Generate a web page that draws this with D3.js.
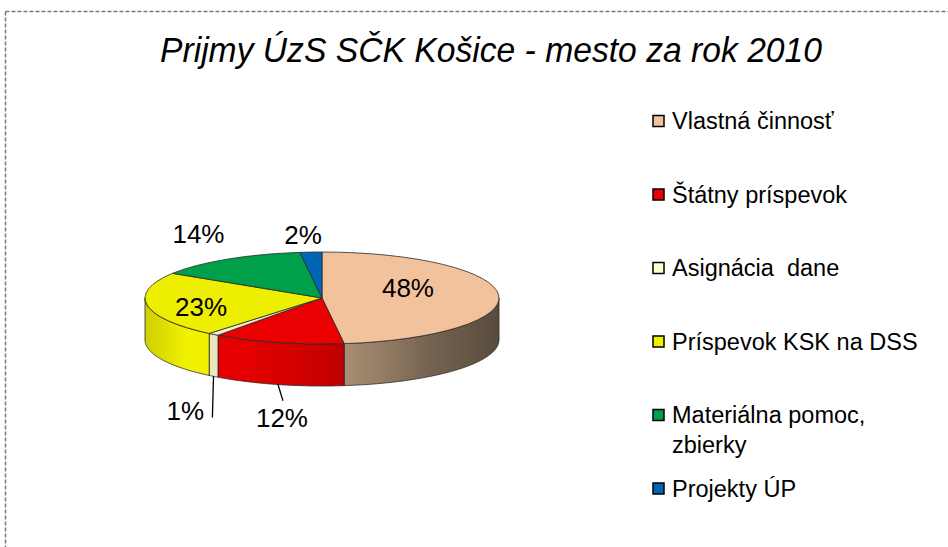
<!DOCTYPE html>
<html>
<head>
<meta charset="utf-8">
<script src="https://cdn.jsdelivr.net/npm/d3@7"></script>
<style>
  html, body { margin: 0; padding: 0; background: #fff; }
  svg { display: block; }
  text { font-family: "Liberation Sans", Arial, sans-serif; fill: #000; white-space: pre; }
</style>
</head>
<body>
<svg id="chart" width="948" height="547"></svg>
<script>
// ---- data ----
const title = "Prijmy ÚzS SČK Košice - mesto za rok 2010";
const categories = ["Vlastná činnosť", "Štátny príspevok", "Asignácia  dane",
                    "Príspevok KSK na DSS", "Materiálna pomoc, zbierky", "Projekty ÚP"];
const legendLines = [["Vlastná činnosť"], ["Štátny príspevok"], ["Asignácia  dane"],
                     ["Príspevok KSK na DSS"], ["Materiálna pomoc,", "zbierky"], ["Projekty ÚP"]];
const values = [48, 12, 1, 23, 14, 2];
const valueLabels = ["48%", "12%", "1%", "23%", "14%", "2%"];

// ---- style ----
const topColors  = ["#F2C29C", "#EA0000", "#F3EFC8", "#EEEE00", "#00A04A", "#0066B3"];
const sideColors = ["#D2B290", "#EA0000", "#EEEAC0", "#F2F200", "#00A04A", "#0066B3"];
const legendColors = ["#F2C29C", "#EA0000", "#FFFFD0", "#F2F200", "#00A04A", "#0066B3"];
// label placement: radial factor, pixel nudge, leader (null = none)
const labelRadial = [0.6, 1.25, 1.25, 0.6, 1.25, 1.25];
const labelNudge  = [[-20, -9], [15, 64], [-1, 67], [-16, 4], [-5, -16], [-5, -6]];
const leaderEnd   = [null, [1, -17], [27, 7], null, null, null];

const svg = d3.select("#chart");
const W = 948, H = 547;

// frame (dashed grey, top + left)
svg.append("line").attr("x1", 5.5).attr("y1", 11.5).attr("x2", W).attr("y2", 11.5)
  .attr("stroke", "#777").attr("stroke-width", 1.5).attr("stroke-dasharray", "4,2");
svg.append("line").attr("x1", 5.5).attr("y1", 11.5).attr("x2", 5.5).attr("y2", H)
  .attr("stroke", "#777").attr("stroke-width", 1.5).attr("stroke-dasharray", "4,2");

// title
svg.append("text").attr("x", 491).attr("y", 62).attr("text-anchor", "middle")
  .attr("font-size", 35).attr("font-style", "italic")
  .attr("textLength", 662).attr("lengthAdjust", "spacingAndGlyphs").text(title);

// ---- 3D pie ----
const cx = 322, cy = 298, rx = 177, ry = 46, depth = 42;
const pie = d3.pie().sort(null).value(d => d)(values);
const arc = d3.arc().innerRadius(0).outerRadius(rx);
const color = d3.scaleOrdinal().domain(categories).range(topColors);
const sideColor = d3.scaleOrdinal().domain(categories).range(sideColors);

// gradients for side walls
const defs = svg.append("defs");
const shadeT = [0, 0.12, 0.3, 0.5, 0.65, 0.8, 1];
const shadeF = [0.85, 1.0, 0.97, 0.86, 0.72, 0.56, 0.42];
categories.forEach((c, i) => {
  const g = defs.append("linearGradient").attr("id", "side" + i)
    .attr("gradientUnits", "userSpaceOnUse")
    .attr("x1", cx - rx).attr("x2", cx + rx).attr("y1", 0).attr("y2", 0);
  const base = d3.rgb(sideColor(c));
  shadeT.forEach((t, k) => {
    const f = shadeF[k];
    const col = d3.rgb(base.r * f, base.g * f, base.b * f);
    g.append("stop").attr("offset", t).attr("stop-color", col.formatHex());
  });
});

const px = a => cx + rx * Math.sin(a);
const py = a => cy - ry * Math.cos(a);
const line = d3.line();

const sides = svg.append("g");
pie.forEach((d, i) => {
  const s = Math.max(d.startAngle, Math.PI / 2);
  const e = Math.min(d.endAngle, 3 * Math.PI / 2);
  if (s >= e) return;
  const n = Math.max(2, Math.ceil((e - s) / 0.01));
  const pts = d3.range(n + 1).map(k => { const a = s + (e - s) * k / n; return [px(a), py(a)]; });
  const bottom = pts.slice().reverse().map(p => [p[0], p[1] + depth]);
  sides.append("path").attr("d", line(pts.concat(bottom)) + "Z")
    .attr("fill", `url(#side${i})`).attr("stroke", "#2a2a2a").attr("stroke-width", 0.8)
    .attr("stroke-linejoin", "round");
});

const tops = svg.append("g").attr("transform", `translate(${cx},${cy}) scale(1,${ry / rx})`);
tops.selectAll("path").data(pie).join("path")
  .attr("d", arc)
  .attr("fill", (d, i) => color(categories[i]))
  .attr("stroke", "#2a2a2a").attr("stroke-width", 0.8)
  .attr("vector-effect", "non-scaling-stroke")
  .attr("stroke-linejoin", "round");

// labels
const labG = svg.append("g");
pie.forEach((d, i) => {
  const mid = (d.startAngle + d.endAngle) / 2;
  const k = labelRadial[i];
  const lx = cx + rx * k * Math.sin(mid) + labelNudge[i][0];
  const ly = cy - ry * k * Math.cos(mid) + labelNudge[i][1];
  if (leaderEnd[i]) {
    labG.append("line")
      .attr("x1", px(mid)).attr("y1", py(mid) + depth)
      .attr("x2", lx + leaderEnd[i][0]).attr("y2", ly + leaderEnd[i][1])
      .attr("stroke", "#000").attr("stroke-width", 1.3);
  }
  labG.append("text").attr("x", lx).attr("y", ly).attr("dy", "0.36em")
    .attr("text-anchor", "middle").attr("font-size", 26).text(valueLabels[i]);
});

// legend
const legX = 653, legTextX = 672, legTop = 121, legStep = 73.5, lineH = 30, sq = 11;
const leg = svg.append("g");
categories.forEach((c, i) => {
  const y = legTop + legStep * i;
  leg.append("rect").attr("x", legX).attr("y", y - sq / 2).attr("width", sq).attr("height", sq)
    .attr("fill", legendColors[i]).attr("stroke", "#000").attr("stroke-width", 1.5);
  legendLines[i].forEach((t, j) => {
    leg.append("text").attr("x", legTextX).attr("y", y + j * lineH).attr("dy", "0.36em")
      .attr("font-size", 23.5).text(t);
  });
});
</script>
</body>
</html>
